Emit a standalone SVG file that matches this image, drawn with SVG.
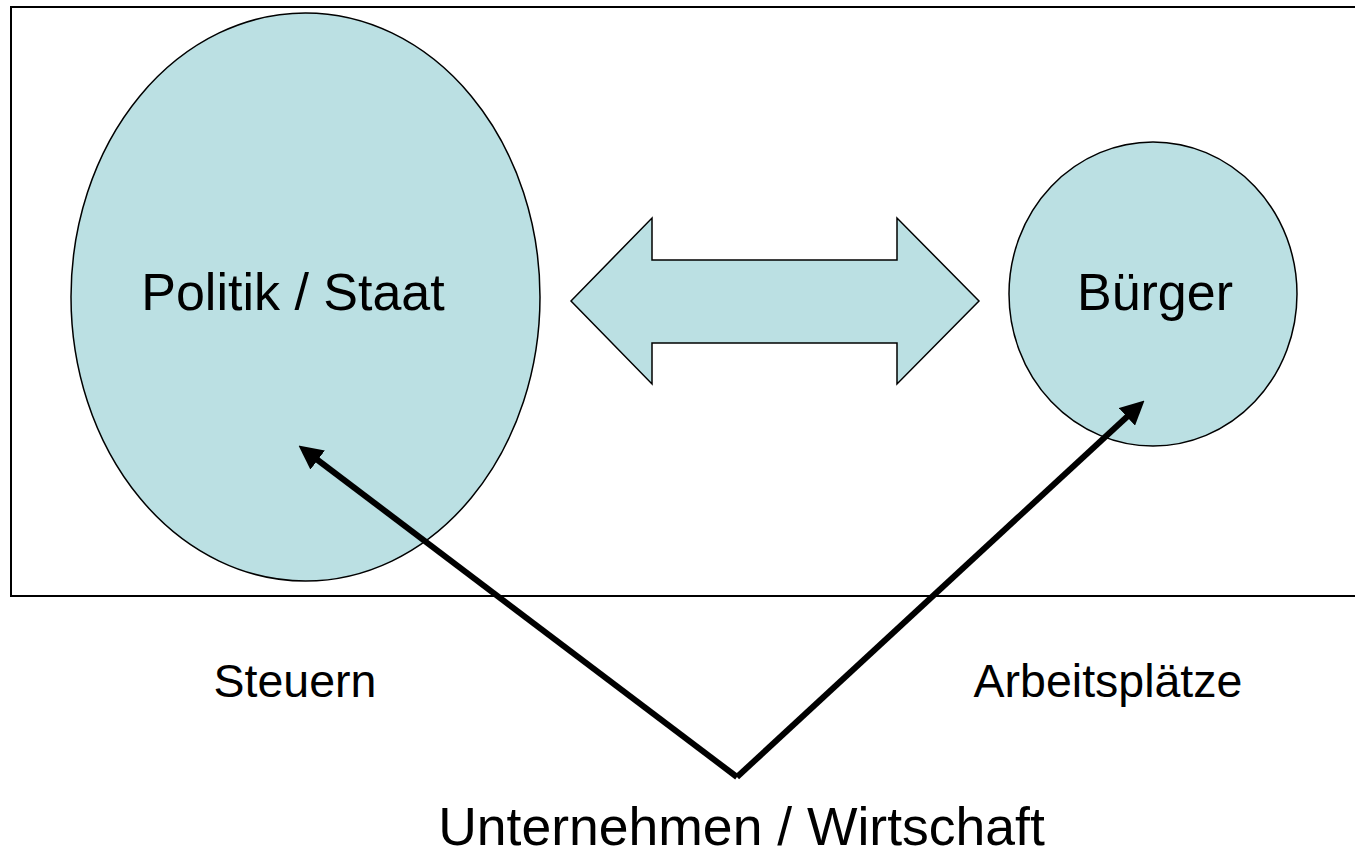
<svg xmlns="http://www.w3.org/2000/svg" width="1355" height="851" viewBox="0 0 1355 851">
<style>
.shape{fill:#BBE0E3;stroke:#000;stroke-width:1.5}
.lbl{font-family:"Liberation Sans",Arial,sans-serif;fill:#000;text-anchor:middle}
.big{font-size:52px}
.small{font-size:46.5px}
.conn{stroke:#000;stroke-width:6;fill:none}
</style>
<defs>
<marker id="head" markerUnits="userSpaceOnUse" markerWidth="24" markerHeight="24" refX="8" refY="11.5" orient="auto" viewBox="0 0 23 23">
<path d="M0,0 L23,11.5 L0,23 z" fill="#000"/>
</marker>
</defs>
<rect x="11" y="7" width="1360" height="589" fill="#fff" stroke="#000" stroke-width="2"/>
<g id="politik">
<ellipse class="shape" cx="305.5" cy="297" rx="234.5" ry="284"/>
<text class="lbl big" x="293" y="310">Politik / Staat</text>
</g>
<g id="buerger">
<ellipse class="shape" cx="1153" cy="294" rx="144" ry="152"/>
<text class="lbl big" x="1155" y="310">Bürger</text>
</g>
<g id="doppelpfeil">
<polygon class="shape" points="571,301 652,218 652,260 897,260 897,218 979,301 897,384 897,343 652,343 652,384"/>
</g>
<g id="steuern">
<text class="lbl small" x="295" y="697">Steuern</text>
</g>
<g id="arbeitsplaetze">
<text class="lbl small" x="1108" y="697">Arbeitsplätze</text>
</g>
<g id="unternehmen">
<text class="lbl" style="font-size:53.5px" x="741.5" y="845">Unternehmen / Wirtschaft</text>
</g>
<g id="connectors">
<line class="conn" x1="737" y1="777" x2="311" y2="455" marker-end="url(#head)"/>
<line class="conn" x1="737" y1="777" x2="1133" y2="411.2" marker-end="url(#head)"/>
</g>
</svg>
